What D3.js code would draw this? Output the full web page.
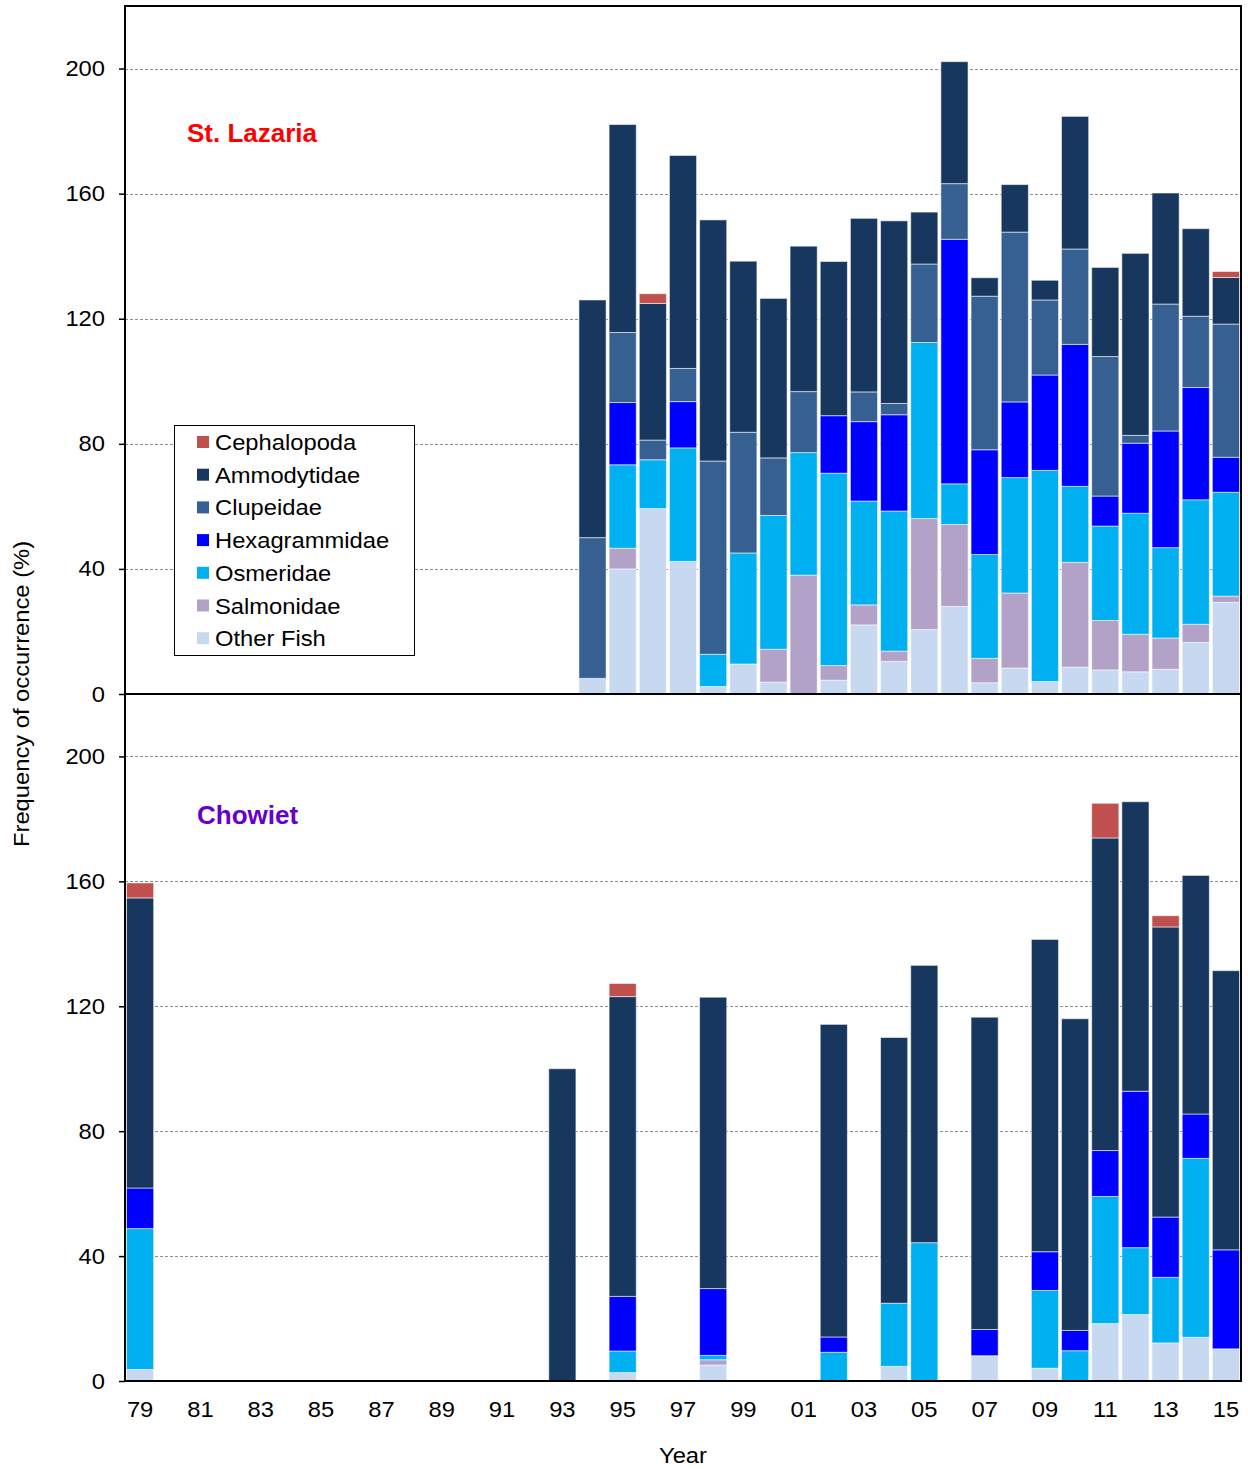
<!DOCTYPE html>
<html>
<head>
<meta charset="utf-8">
<script src="https://cdn.jsdelivr.net/npm/d3@7"></script>
<style>
  html, body { margin: 0; padding: 0; background: #fff; }
  svg { display: block; font-family: "Liberation Sans", Arial, sans-serif; }
</style>
</head>
<body>
<svg id="chart" width="1248" height="1469"></svg>
<script>
// ---------- data ----------
const allYears = d3.range(1979, 2016);
const xTickYears = d3.range(1979, 2016, 2);
const yTicks = [0, 40, 80, 120, 160, 200];

const categories = ["Other Fish", "Salmonidae", "Osmeridae", "Hexagrammidae", "Clupeidae", "Ammodytidae", "Cephalopoda"];
const legendOrder = ["Cephalopoda", "Ammodytidae", "Clupeidae", "Hexagrammidae", "Osmeridae", "Salmonidae", "Other Fish"];
const colors = {
  "Cephalopoda": "#C0504D",
  "Ammodytidae": "#17375E",
  "Clupeidae": "#376092",
  "Hexagrammidae": "#0000FF",
  "Osmeridae": "#00B0F0",
  "Salmonidae": "#B3A2C7",
  "Other Fish": "#C6D9F1"
};

// St. Lazaria
const lazYears = [1994,1995,1996,1997,1998,1999,2000,2001,2002,2003,2004,2005,2006,2007,2008,2009,2010,2011,2012,2013,2014,2015];
const lazOther = [5, 40, 59.3, 42.4, 2.4, 9.6, 3.8, 0, 4.4, 22.1, 10.4, 20.6, 28, 3.6, 8.3, 4, 8.6, 7.7, 7.1, 7.9, 16.5, 29.3];
const lazSalm  = [0, 6.6, 0, 0, 0, 0, 10.5, 38, 4.7, 6.4, 3.3, 35.5, 26.2, 7.8, 24, 0, 33.5, 15.8, 12, 10, 5.8, 2];
const lazOsm   = [0, 26.7, 15.6, 36.3, 10.3, 35.5, 42.8, 39.2, 61.5, 33.2, 44.8, 56.3, 13, 33.2, 36.9, 67.5, 24.3, 30.2, 38.7, 28.9, 39.8, 33.2];
const lazHex   = [0, 19.9, 0, 14.8, 0, 0, 0, 0, 18.4, 25.4, 30.8, 0, 78.2, 33.5, 24.2, 30.5, 45.4, 9.6, 22.4, 37.3, 35.9, 11.2];
const lazClup  = [45, 22.4, 6.3, 10.6, 61.8, 38.6, 18.4, 19.5, 0, 9.5, 3.6, 25.1, 17.8, 49.1, 54.3, 24, 30.5, 44.6, 2.5, 40.6, 22.8, 42.6];
const lazAmmo  = [76, 66.5, 43.7, 68.1, 77.1, 54.7, 51, 46.5, 49.3, 55.5, 58.4, 16.6, 39, 5.9, 15.2, 6.3, 42.4, 28.5, 58.2, 35.5, 28, 14.9];
const lazCeph  = [0, 0, 3.1, 0, 0, 0, 0, 0, 0, 0, 0, 0, 0, 0, 0, 0, 0, 0, 0, 0, 0, 1.9];

// Chowiet
const chowYears = [1979,1993,1995,1998,2002,2004,2005,2007,2009,2010,2011,2012,2013,2014,2015];
const chowOther = [3.7, 0, 2.7, 5.1, 0, 4.7, 0, 8.1, 4.1, 0, 18.4, 21.3, 12.2, 14, 10.3];
const chowSalm  = [0, 0, 0, 1.7, 0, 0, 0, 0, 0, 0, 0, 0, 0, 0, 0];
const chowOsm   = [45.1, 0, 6.9, 1.4, 9.2, 20.2, 44.3, 0, 24.9, 9.7, 40.7, 21.4, 21, 57.3, 0];
const chowHex   = [13, 0, 17.5, 21.4, 4.9, 0, 0, 8.4, 12.4, 6.5, 14.7, 50.1, 19.3, 14.2, 31.7];
const chowClup  = [0, 0, 0, 0, 0, 0, 0, 0, 0, 0, 0, 0, 0, 0, 0];
const chowAmmo  = [92.9, 100, 96, 93.3, 100.1, 85.1, 88.8, 100, 100, 99.8, 100.1, 92.7, 92.9, 76.4, 89.4];
const chowCeph  = [4.8, 0, 4.2, 0, 0, 0, 0, 0, 0, 0, 11.1, 0, 3.6, 0, 0];

function buildRows(years, o, s, os, h, c, a, ce) {
  return years.map((y, i) => ({
    year: y,
    "Other Fish": o[i], "Salmonidae": s[i], "Osmeridae": os[i],
    "Hexagrammidae": h[i], "Clupeidae": c[i], "Ammodytidae": a[i], "Cephalopoda": ce[i]
  }));
}
const lazRows = buildRows(lazYears, lazOther, lazSalm, lazOsm, lazHex, lazClup, lazAmmo, lazCeph);
const chowRows = buildRows(chowYears, chowOther, chowSalm, chowOsm, chowHex, chowClup, chowAmmo, chowCeph);

// ---------- layout ----------
const SX = 1.08; // horizontal text stretch seen in the reference
const svg = d3.select("#chart");
const left = 125, right = 1241;
const panels = [
  { rows: lazRows, top: 6, bottom: 694, title: "St. Lazaria", titleColor: "#FF0000", tx: 187, ty: 142 },
  { rows: chowRows, top: 694, bottom: 1381, title: "Chowiet", titleColor: "#6600CC", tx: 197, ty: 824 }
];

const x = d3.scaleBand().domain(allYears).range([left, right]).paddingInner(0.1).paddingOuter(0.05);
const stack = d3.stack().keys(categories);

panels.forEach(p => {
  const y = d3.scaleLinear().domain([0, 220]).range([p.bottom, p.top]);
  const g = svg.append("g");

  // gridlines
  g.selectAll("line.grid").data(yTicks.filter(t => t > 0)).join("line")
    .attr("x1", left).attr("x2", right)
    .attr("y1", d => Math.round(y(d)) + 0.5).attr("y2", d => Math.round(y(d)) + 0.5)
    .attr("stroke", "#8c8c8c").attr("stroke-width", 1).attr("stroke-dasharray", "3,2");

  // bars
  const series = stack(p.rows);
  g.selectAll("g.series").data(series).join("g")
    .attr("fill", d => colors[d.key])
    .selectAll("rect").data(d => d.filter(v => v[1] - v[0] > 0)).join("rect")
      .attr("x", d => x(d.data.year))
      .attr("width", x.bandwidth())
      .attr("y", d => y(d[1]))
      .attr("height", d => y(d[0]) - y(d[1]))
      .attr("stroke", "rgba(255,255,255,0.55)")
      .attr("stroke-width", 1);

  // y axis
  const axis = d3.axisLeft(y).tickValues(yTicks).tickSize(6).tickPadding(14);
  const ag = svg.append("g").attr("transform", `translate(${left},0)`).call(axis);
  ag.select(".domain").remove();
  ag.selectAll(".tick line").attr("stroke", "#000").attr("stroke-width", 1.5);
  ag.selectAll(".tick text").each(function() {
    const t = d3.select(this);
    const tx = +t.attr("x");
    t.attr("x", 0).attr("transform", `translate(${tx},0) scale(${SX},1)`);
  }).attr("font-size", 22).attr("fill", "#000")
    .attr("font-family", "Liberation Sans, Arial, sans-serif");

  // title
  svg.append("text").attr("x", p.tx).attr("y", p.ty)
    .attr("font-size", 26).attr("font-weight", "bold").attr("fill", p.titleColor)
    .text(p.title);
});

// frame
svg.append("rect").attr("x", left).attr("y", 6).attr("width", right - left).attr("height", 1381 - 6)
  .attr("fill", "none").attr("stroke", "#000").attr("stroke-width", 2);
svg.append("line").attr("x1", left).attr("x2", right).attr("y1", 694).attr("y2", 694)
  .attr("stroke", "#000").attr("stroke-width", 2);

// x axis labels
const xa = d3.axisBottom(x).tickValues(xTickYears).tickSize(0).tickPadding(20)
  .tickFormat(d => String(d % 100).padStart(2, "0"));
const xg = svg.append("g").attr("transform", "translate(0,1381)").call(xa);
xg.select(".domain").remove();
xg.selectAll(".tick text").attr("transform", `scale(${SX},1)`).attr("font-size", 22).attr("fill", "#000")
  .attr("font-family", "Liberation Sans, Arial, sans-serif");

// axis titles
svg.append("text").attr("transform", `translate(683,1463) scale(${SX},1)`).attr("text-anchor", "middle")
  .attr("font-size", 22).text("Year");
svg.append("text").attr("transform", `translate(29,694) rotate(-90) scale(${SX},1)`).attr("text-anchor", "middle")
  .attr("font-size", 22).text("Frequency of occurrence (%)");

// legend
const lg = svg.append("g");
lg.append("rect").attr("x", 174.5).attr("y", 425.5).attr("width", 240).attr("height", 230)
  .attr("fill", "#fff").attr("stroke", "#000").attr("stroke-width", 1);
legendOrder.forEach((k, i) => {
  const cy = 442 + i * 32.7;
  lg.append("rect").attr("x", 197).attr("y", cy - 6).attr("width", 12).attr("height", 12).attr("fill", colors[k]);
  lg.append("text").attr("transform", `translate(215,${cy + 8}) scale(${SX},1)`)
    .attr("font-size", 22).attr("fill", "#000").text(k);
});
</script>
</body>
</html>
